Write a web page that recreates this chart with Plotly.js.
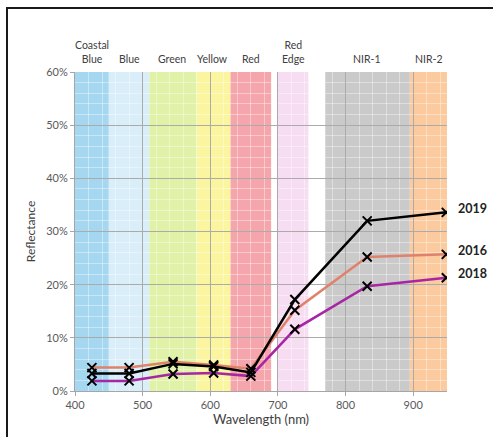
<!DOCTYPE html>
<html>
<head>
<meta charset="utf-8">
<script src="https://cdn.plot.ly/plotly-3.0.1.min.js"></script>
<style>
  html, body { margin: 0; padding: 0; background: #fff; }
  #wrap { position: relative; width: 493px; height: 437px; overflow: hidden; }
  #frame { position: absolute; left: 6px; top: 7px; width: 600px; height: 600px; border: 2px solid #1a1a1a; box-sizing: border-box; pointer-events: none; z-index: 5; }
  #chart { position: absolute; left: 0; top: 0; width: 493px; height: 437px; }
</style>
</head>
<body>
<div id="wrap">
  <div id="chart"></div>
  <div id="frame"></div>
</div>
<script>
// Band centre wavelengths (nm)
const wavelengths = [425, 480, 545, 605, 660, 725, 832, 949];
// Reflectance (%)
const refl2019 = [3.3, 3.3, 5.1, 4.6, 3.5, 17.2, 32.0, 33.6];
const refl2016 = [4.4, 4.4, 5.5, 4.9, 4.2, 15.2, 25.2, 25.7];
const refl2018 = [1.9, 1.9, 3.2, 3.4, 2.8, 11.6, 19.7, 21.3];

// Spectral band backgrounds
const bandLabels = ['Coastal<br>Blue', 'Blue', 'Green', 'Yellow', 'Red', 'Red<br>Edge', 'NIR-1', 'NIR-2'];
const bandStart  = [400, 450, 510, 580, 630, 700, 770, 895];
const bandEnd    = [450, 510, 580, 630, 690, 745, 895, 950];
const bandLabelX = [425, 480, 543, 603, 660, 723, 832, 923];
const bandColors = ['#a6d7f1', '#d9eef8', '#e0f1a8', '#fcf5a0', '#f4a6ac', '#f6ddf2', '#cacaca', '#fbca9f'];

const seriesNames = ['2018', '2016', '2019'];
const seriesData = [refl2018, refl2016, refl2019];
const seriesColors = ['#a626a4', '#e0826b', '#000000'];

const traces = seriesData.map((ys, i) => ({
  x: wavelengths,
  y: ys,
  type: 'scatter',
  mode: 'lines+markers',
  name: seriesNames[i],
  line: { color: seriesColors[i], width: 2.5 },
  marker: { symbol: 'x-thin-open', size: 9, color: '#000', line: { color: '#000', width: 2 } },
  hoverinfo: 'x+y+name'
}));

const shapes = bandStart.map((s, i) => ({
  type: 'rect', xref: 'x', yref: 'y',
  x0: s, x1: bandEnd[i], y0: 0, y1: 60,
  fillcolor: bandColors[i], line: { width: 0 }, layer: 'below'
}));

const annotations = bandLabels.map((t, i) => ({
  text: t, x: bandLabelX[i], xref: 'x', y: 1.0, yref: 'paper',
  yanchor: 'bottom', xanchor: 'center', yshift: 5, showarrow: false,
  font: { size: 10.5, color: '#404040' }, align: 'center'
}));

seriesNames.forEach((n, i) => {
  const ys = seriesData[i];
  annotations.push({
    text: '<b>' + n + '</b>', x: wavelengths[wavelengths.length - 1], y: ys[ys.length - 1],
    xref: 'x', yref: 'y', xanchor: 'left', yanchor: 'middle', xshift: 10, yshift: 4,
    showarrow: false, font: { size: 12.5, color: '#222' }
  });
});

const layout = {
  width: 493, height: 437,
  margin: { l: 75, r: 46, t: 72, b: 46 },
  paper_bgcolor: 'rgba(0,0,0,0)',
  plot_bgcolor: '#ffffff',
  font: { family: 'Lato, "Open Sans", sans-serif', color: '#595959', size: 11 },
  showlegend: false,
  xaxis: {
    range: [400, 950], tickmode: 'linear', tick0: 400, dtick: 100,
    showgrid: true, gridcolor: '#ababab', gridwidth: 1,
    minor: { dtick: 20, showgrid: true, gridcolor: 'rgba(255,255,255,0.38)', gridwidth: 1 },
    showline: true, linecolor: '#a6a6a6', linewidth: 1,
    ticks: 'outside', ticklen: 4, tickcolor: '#a6a6a6',
    zeroline: false,
    tickfont: { size: 11, color: '#595959' },
    title: { text: 'Wavelength (nm)', font: { size: 13, color: '#404040' }, standoff: 4 }
  },
  yaxis: {
    range: [0, 60], tickmode: 'linear', tick0: 0, dtick: 10, ticksuffix: '%',
    showgrid: true, gridcolor: '#ababab', gridwidth: 1,
    minor: { dtick: 2, showgrid: true, gridcolor: 'rgba(255,255,255,0.38)', gridwidth: 1 },
    showline: true, linecolor: '#a6a6a6', linewidth: 1,
    ticks: 'outside', ticklen: 4, tickcolor: '#a6a6a6',
    zeroline: false,
    tickfont: { size: 11, color: '#595959' },
    title: { text: 'Reflectance', font: { size: 12, color: '#404040' }, standoff: 8 }
  },
  shapes: shapes,
  annotations: annotations
};

Plotly.newPlot('chart', traces, layout, { displayModeBar: false, staticPlot: true });
</script>
</body>
</html>
